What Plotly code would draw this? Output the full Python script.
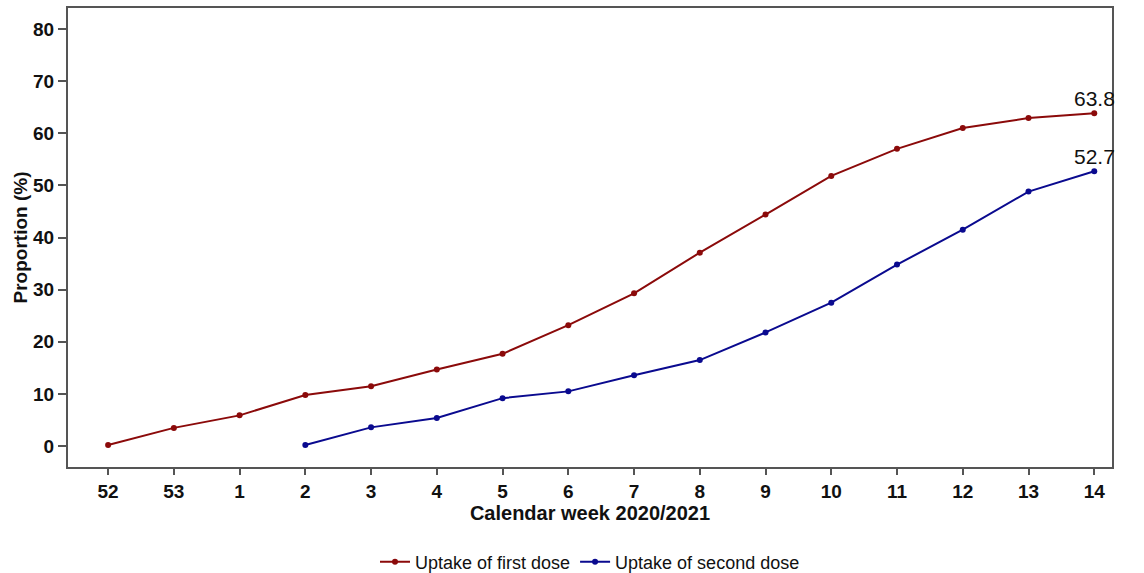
import plotly.graph_objects as go

weeks = ["52", "53", "1", "2", "3", "4", "5", "6", "7", "8", "9", "10", "11", "12", "13", "14"]
first_dose = [0.2, 3.5, 5.9, 9.8, 11.5, 14.7, 17.7, 23.2, 29.3, 37.1, 44.4, 51.8, 57.0, 61.0, 62.9, 63.8]
second_weeks = ["2", "3", "4", "5", "6", "7", "8", "9", "10", "11", "12", "13", "14"]
second_dose = [0.2, 3.6, 5.4, 9.2, 10.5, 13.6, 16.5, 21.8, 27.5, 34.8, 41.5, 48.8, 52.7]

RED = "#8B0A0A"
BLUE = "#0A0A8F"
FONT = "Liberation Sans, Arial, sans-serif"

fig = go.Figure()
fig.add_trace(go.Scatter(x=weeks, y=first_dose, mode="lines+markers", name="Uptake of first dose",
                         line=dict(color=RED, width=2), marker=dict(color=RED, size=6)))
fig.add_trace(go.Scatter(x=second_weeks, y=second_dose, mode="lines+markers", name="Uptake of second dose",
                         line=dict(color=BLUE, width=2), marker=dict(color=BLUE, size=6)))

for xs, ys in ((weeks, first_dose), (second_weeks, second_dose)):
    fig.add_annotation(x=weeks.index(xs[-1]), y=ys[-1], text=f"{ys[-1]:.1f}", showarrow=False,
                       yanchor="bottom", yshift=1, xanchor="center",
                       font=dict(family=FONT, size=21, color="#111111"))

fig.update_layout(
    width=1144, height=589,
    margin=dict(l=68, r=32, t=8, b=117),
    paper_bgcolor="white", plot_bgcolor="white",
    font=dict(family=FONT, color="#111111"),
    showlegend=True,
    legend=dict(orientation="h", x=0.5, xanchor="center", y=-0.167, yanchor="top",
                font=dict(family=FONT, size=18, color="#111111")),
    xaxis=dict(type="category", categoryorder="array", categoryarray=weeks, automargin=False,
               range=[-0.61, 15.27], showline=True, mirror=True, linecolor="#555555", linewidth=2,
               ticks="outside", ticklen=6, tickcolor="#555555", tickwidth=1.5,
               showgrid=False, zeroline=False,
               tickfont=dict(family=FONT, size=19, color="#111111", weight="bold"),
               title=dict(text="<b>Calendar week 2020/2021</b>", standoff=2,
                          font=dict(family=FONT, size=20, color="#111111"))),
    yaxis=dict(range=[-4, 84], tickvals=[0, 10, 20, 30, 40, 50, 60, 70, 80], automargin=False,
               showline=True, mirror=True, linecolor="#555555", linewidth=2,
               ticks="outside", ticklen=8, tickcolor="#555555", tickwidth=1.5,
               showgrid=False, zeroline=False,
               tickfont=dict(family=FONT, size=19, color="#111111", weight="bold"),
               title=dict(text="<b>Proportion (%)</b>", standoff=0,
                          font=dict(family=FONT, size=19, color="#111111"))),
)

fig.write_html("out.html", config={"displayModeBar": False},
               post_script="document.body.style.margin='0';document.body.style.overflow='hidden';"
                           "document.documentElement.style.overflow='hidden';")
